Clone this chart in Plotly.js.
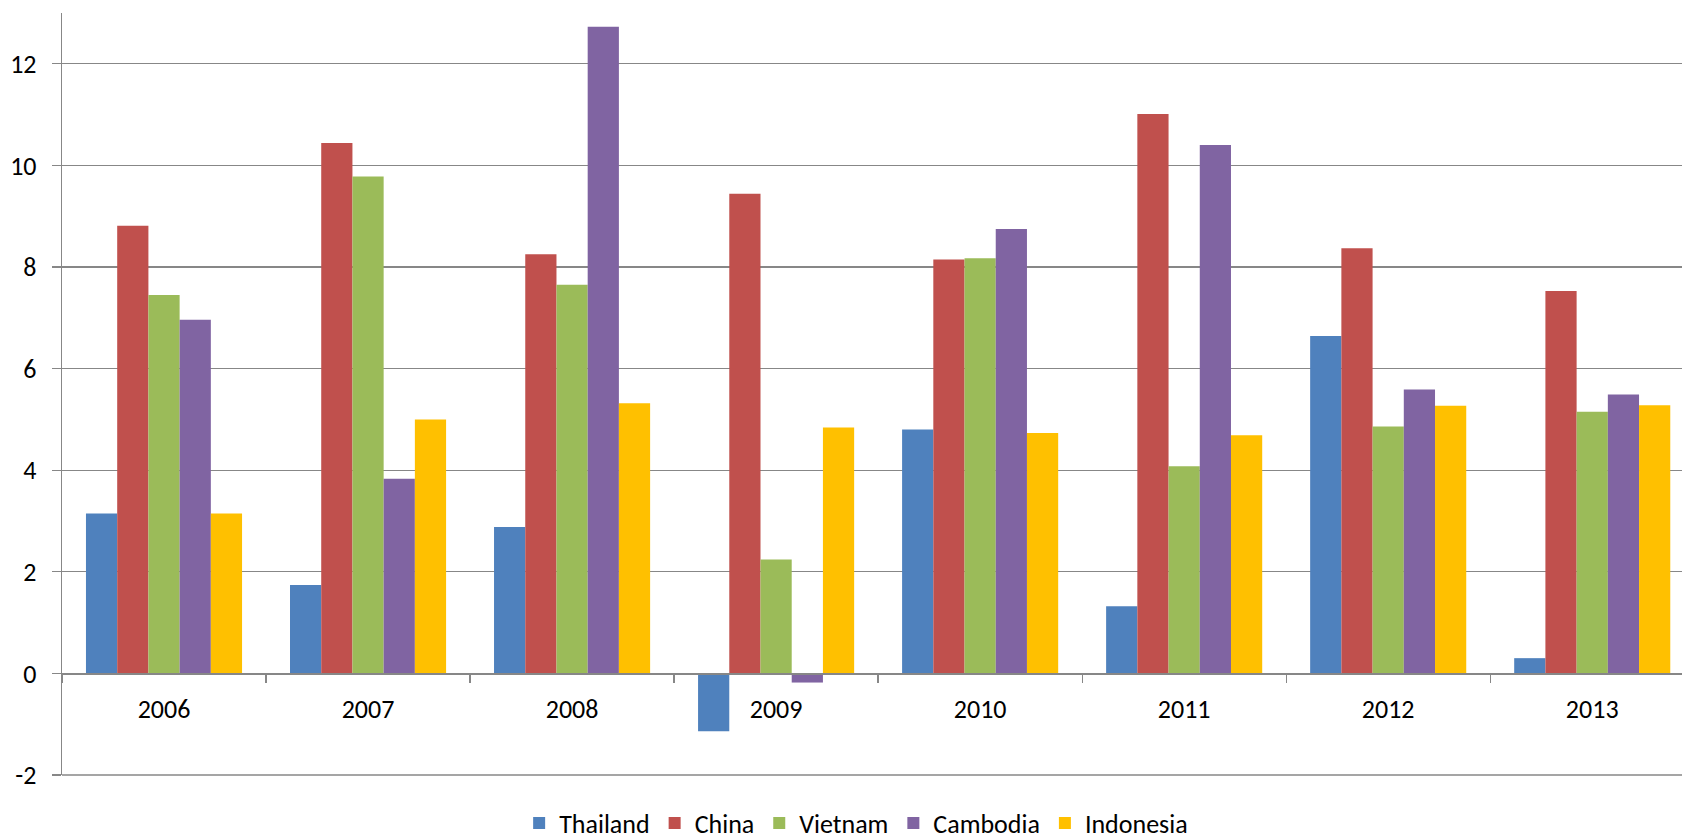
<!DOCTYPE html>
<html>
<head>
<meta charset="utf-8">
<script src="https://cdn.plot.ly/plotly-3.0.1.min.js"></script>
<style>
html,body{margin:0;padding:0;background:#fff;}
#chart{width:1682px;height:839px;}
</style>
</head>
<body>
<div id="chart"></div>
<script>
var years = ["2006","2007","2008","2009","2010","2011","2012","2013"];
var thailand  = [3.15, 1.74, 2.88, -1.14, 4.80, 1.32, 6.64, 0.30];
var china     = [8.81, 10.44, 8.25, 9.44, 8.15, 11.01, 8.37, 7.53];
var vietnam   = [7.45, 9.78, 7.65, 2.24, 8.17, 4.08, 4.86, 5.15];
var cambodia  = [6.96, 3.83, 12.73, -0.18, 8.75, 10.40, 5.59, 5.49];
var indonesia = [3.15, 5.00, 5.32, 4.84, 4.73, 4.69, 5.27, 5.28];

var seriesNames = ["Thailand","China","Vietnam","Cambodia","Indonesia"];
var seriesValues = [thailand, china, vietnam, cambodia, indonesia];
var seriesColors = ["#4F81BD","#C0504D","#9BBB59","#8064A2","#FFC000"];
var yTickVals = [-2, 0, 2, 4, 6, 8, 10, 12];

var FONT = "Carlito, Lato, 'Liberation Sans', sans-serif";
var GRID = "#878787";

var data = seriesNames.map(function(n, i){
  return {
    type: "bar",
    name: n,
    x: years,
    y: seriesValues[i],
    marker: {color: seriesColors[i], line: {width: 0}},
    hoverinfo: "x+y+name"
  };
});

var layout = {
  width: 1682,
  height: 839,
  paper_bgcolor: "#ffffff",
  plot_bgcolor: "#ffffff",
  margin: {l: 62, r: 0, t: 13, b: 64, pad: 0, autoexpand: false},
  barmode: "group",
  bargap: 0.235,
  bargroupgap: 0,
  font: {family: FONT, size: 26, color: "#000000"},
  showlegend: true,
  legend: {
    orientation: "h",
    xref: "container", yref: "container",
    x: 0.509, xanchor: "center",
    y: 0.019, yanchor: "middle",
    font: {family: FONT, size: 26, color: "#000000"},
    itemclick: false,
    traceorder: "normal",
    bgcolor: "rgba(0,0,0,0)"
  },
  shapes: [{
    type: "line", xref: "paper", yref: "paper",
    x0: 0, x1: 1, y0: 0, y1: 0,
    line: {color: GRID, width: 1.3}
  }],
  xaxis: {
    type: "category",
    range: [-0.5, 7.44],
    tickson: "boundaries",
    ticks: "outside",
    ticklen: 8,
    tickwidth: 1.3,
    tickcolor: GRID,
    showline: true,
    linecolor: GRID,
    linewidth: 1.3,
    showgrid: false,
    zeroline: false,
    anchor: "free",
    position: 2/15,
    ticklabelstandoff: 12,
    tickfont: {family: FONT, size: 26, color: "#000000"}
  },
  yaxis: {
    range: [-2, 13],
    tickmode: "array",
    tickvals: yTickVals,
    ticktext: yTickVals.map(String),
    ticks: "outside",
    ticklen: 9,
    tickwidth: 1.3,
    tickcolor: GRID,
    showline: true,
    linecolor: GRID,
    linewidth: 1.3,
    showgrid: true,
    gridcolor: GRID,
    gridwidth: 1.3,
    zeroline: false,
    ticklabelstandoff: 10,
    tickfont: {family: FONT, size: 26, color: "#000000"}
  }
};

Plotly.newPlot("chart", data, layout, {staticPlot: true, displayModeBar: false});
</script>
</body>
</html>
